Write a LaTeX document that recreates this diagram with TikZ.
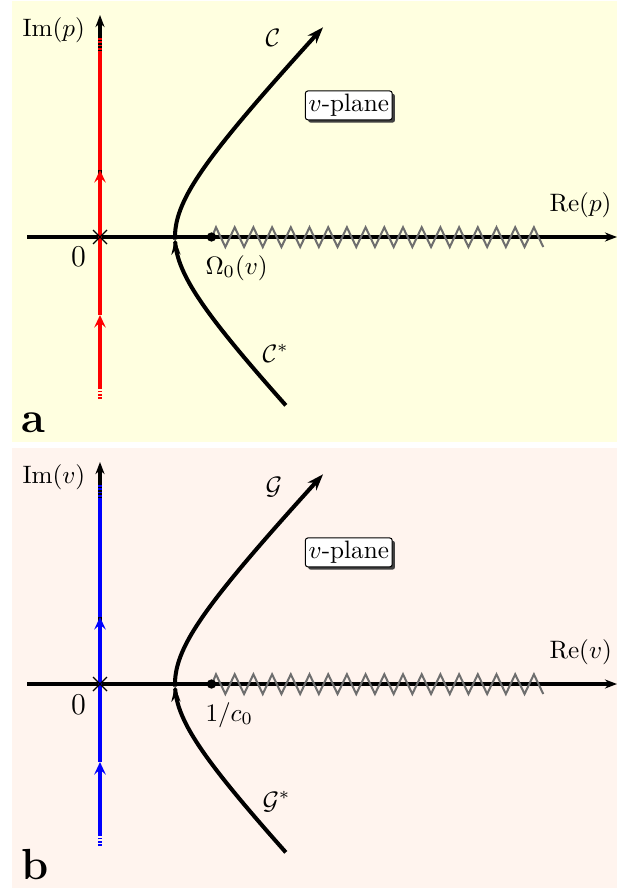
\documentclass[tikz,border=0pt]{standalone}
\usetikzlibrary{arrows.meta,shadows}
\definecolor{bga}{RGB}{255,255,224}
\definecolor{bgb}{RGB}{255,244,238}
\definecolor{zzcol}{RGB}{110,110,110}
\tikzset{
 axisline/.style={line width=1.4pt, draw=black},
 axtip/.style={-{Stealth[length=4.8pt,width=3.6pt,inset=1.6pt]}},
 curveline/.style={line width=1.6pt, line join=round},
 imline/.style={line width=1.7pt},
 midtip/.style={-{Stealth[length=5pt,width=4.6pt,inset=2pt]}},
 enddash/.style={dash pattern=on 0.7pt off 0.6pt},
 zigline/.style={draw=zzcol, line width=0.8pt, line join=miter},
 lbl/.style={inner sep=0pt},
 planebox/.style={draw, fill=white, line width=0.4pt, rounded corners=1pt, inner sep=1.3pt,
   drop shadow={shadow xshift=1.1pt, shadow yshift=-1.1pt, fill=black!75, opacity=1}},
 pointdot/.style={circle, fill=black, inner sep=0pt, minimum size=3.7pt},
}
% #1 shift, #2 bg, #3 line colour, #4 variable, #5 curve label, #6 conj label, #7 point label, #8 panel letter
\newcommand{\myplane}[8]{%
\begin{scope}[shift={(0,#1)}]
 \fill[#2] (12,1) rectangle (617,442);
 \coordinate (#8-xl) at (27,237);
 \coordinate (#8-xr) at (617,237);
 \coordinate (#8-o) at (100,237);
 \coordinate (#8-yt) at (100,15);
 \draw[axisline,axtip] (#8-xl) -- (#8-xr);
 \draw[axisline,axtip] (#8-o) -- (#8-yt);
 \coordinate (#8-b0) at (100,399);
 \coordinate (#8-b1) at (100,387);
 \coordinate (#8-m1) at (100,315);
 \coordinate (#8-m2) at (100,170);
 \coordinate (#8-t1) at (100,53);
 \coordinate (#8-t0) at (100,38);
 \draw[imline,#3,enddash] (#8-b0) -- (#8-b1);
 \draw[imline,#3,midtip] (#8-b1) -- (#8-m1);
 \draw[imline,#3,midtip] (#8-m1) -- (#8-m2);
 \draw[imline,#3] (#8-m2) -- (#8-t1);
 \draw[imline,#3,enddash] (#8-t1) -- (#8-t0);
 \draw[line width=0.55pt] (93,230) -- (107,244) (93,244) -- (107,230);
 \draw[zigline] (212,237) \foreach \i in {0,...,17} { -- ({216+18.7*\i},227.3) -- ({225.35+18.7*\i},247) };
 \draw[curveline,-{Stealth[length=6pt,width=3.6pt,inset=2pt]}]
   plot[domain=-1.707:-0.04,samples=40,variable=\t] ({115+60*cosh(\t)},{237-63.16*sinh(\t)});
 \draw[curveline,-{Stealth[length=6.5pt,width=4.6pt,inset=2pt]}]
   plot[domain=-0.04:1.9155,samples=50,variable=\t] ({115+60*cosh(\t)},{237-63.16*sinh(\t)});
 \node[pointdot] (#8-dot) at (211.5,237) {};
 \node[lbl, anchor=base west] (#8-iml) at (22,36.6) {Im$(#4)$};
 \node[lbl, anchor=base west] (#8-rel) at (549,211.5) {Re$(#4)$};
 \node[lbl, anchor=base, font=\large] (#8-zero) at (78.5,267) {$0$};
 \node[lbl, anchor=base west] (#8-cl) at (265,47) {$#5$};
 \node[lbl, anchor=base west] (#8-csl) at (262,362) {$#6$};
 \node[lbl, anchor=base west] (#8-pl) at (205,274) {$#7$};
 \node[planebox] (#8-plane) at (348.8,105.4) {$v$-plane};
 \node[lbl, anchor=base west, font=\LARGE\bfseries] (#8-letter) at (21,432) {#8};
\end{scope}}
\begin{document}
\begin{tikzpicture}[x=0.397pt,y=-0.397pt]
 \useasboundingbox (0,0) rectangle (619,888);
 \myplane{0}{bga}{red}{p}{\mathcal{C}}{\mathcal{C}^*}{\Omega_0(v)}{a}
 \myplane{447}{bgb}{blue}{v}{\mathcal{G}}{\mathcal{G}^*}{1/c_0}{b}
\end{tikzpicture}
\end{document}
